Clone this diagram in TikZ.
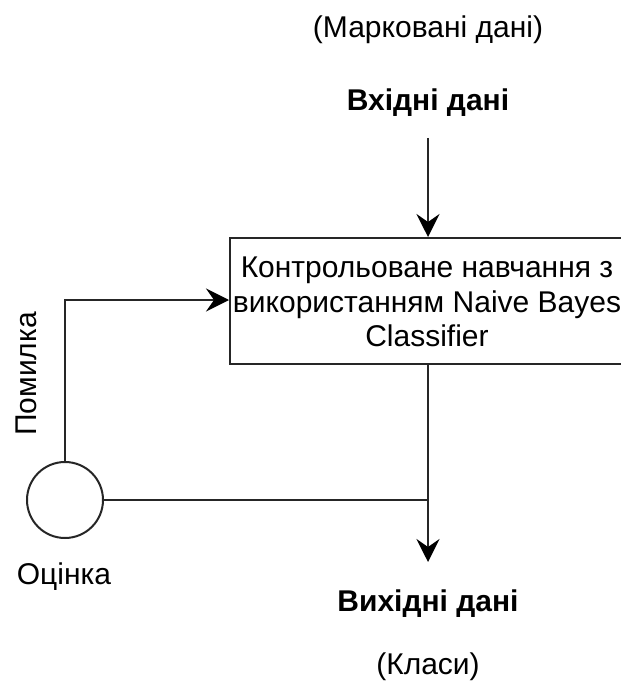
\documentclass[tikz,border=0pt]{standalone}
\usepackage{fontspec}
\setmainfont{Liberation Sans}
\usetikzlibrary{arrows.meta}
\begin{document}
\begin{tikzpicture}[x=1pt,y=-1pt,
  line width=2pt,
  txt/.style={font=\fontsize{30}{34.5}\selectfont, inner sep=0pt},
  btxt/.style={font=\fontsize{30}{34.5}\selectfont\bfseries, inner sep=0pt},
  flow/.style={draw=black!85, -{Stealth[length=23pt,width=23pt,inset=8pt,color=black]}},
  wire/.style={draw=black!85}]
\useasboundingbox (0,0) rectangle (620,692);

% labels above and below the main flow
\node[txt] (lab) at (428,30) {(Марковані дані)};
\node[btxt] (in) at (428,103) {Вхідні дані};
\node[btxt] (out) at (428,604) {Вихідні дані};
\node[txt] (cls) at (428,667) {(Класи)};

% learning block
\node[draw=black!85, line width=2pt, minimum width=400pt, minimum height=126pt, anchor=north west] (box) at (229,237) {};
\node[txt, align=center] (boxtxt) at (427,302)
  {Контрольоване навчання з\\використанням Naive Bayes\\Classifier};

% evaluation circle
\node[draw=black!85, line width=2pt, circle, minimum size=76pt, inner sep=0pt] (eval) at (65,500) {};
\node[txt] (evl) at (64,577) {Оцінка};
\node[txt, rotate=90] (err) at (26,374) {Помилка};

% connectors
\coordinate (inTop) at (428,138);
\coordinate (boxIn) at (428,237);
\coordinate (boxOut) at (428,363);
\coordinate (outEnd) at (428,562);
\coordinate (join) at (428,500);
\coordinate (corner) at (65,300);
\coordinate (boxLeft) at (229,300);

\draw[flow] (inTop) -- (boxIn);
\draw[flow] (boxOut) -- (outEnd);
\draw[wire] (eval.east) -- (join);
\draw[flow] (eval.north) -- (corner) -- (boxLeft);
\end{tikzpicture}
\end{document}
